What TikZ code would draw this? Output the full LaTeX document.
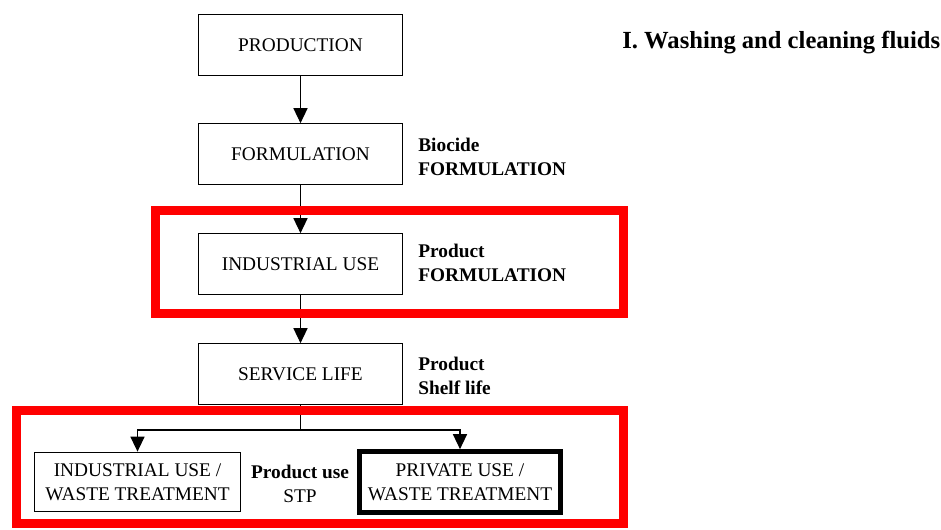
\documentclass[tikz,border=0pt]{standalone}
\usepackage{fontspec}
\setmainfont{Liberation Serif}
\usetikzlibrary{arrows.meta}

\begin{document}
\begin{tikzpicture}[ x = 0.02cm, y = -0.02cm ]
        \tikzset{stage/.style={draw, line width=0.6pt, minimum width=116pt, minimum height=34.5pt,
                 inner sep=0pt, align=center, font=\fontsize{11}{13.6}\selectfont}}
        \tikzset{note/.style={anchor=west, inner sep=0pt, align=left, font=\bfseries\fontsize{11}{13.6}\selectfont}}
        \tikzset{flow/.style={line width=0.6pt, -{Triangle[length=8.5pt,width=8pt]}}}   % directed edges
        \tikzset{frame/.style={draw=red, line width=5.1pt}}

        \useasboundingbox (0,0) rectangle (941,530);

        \node[stage] (prod) at (300.5,45)  {PRODUCTION};
        \node[stage] (form) at (300.5,154) {FORMULATION};
        \node[stage] (indu) at (300.5,264) {INDUSTRIAL USE};
        \node[stage] (serv) at (300.5,374) {SERVICE LIFE};

        \node[stage, minimum width=117pt, minimum height=34pt] (indw) at (137.5,482) {INDUSTRIAL USE /\\WASTE TREATMENT};
        \node[stage, line width=2.8pt, minimum width=114pt, minimum height=34.6pt] (priv) at (460,482) {PRIVATE USE /\\WASTE TREATMENT};

        \node[note] (biof) at (418,157) {Biocide\\FORMULATION};
        \node[note] (prof) at (418,263) {Product\\FORMULATION};
        \node[note] (shel) at (418,375.5) {Product\\Shelf life};
        \node[note, anchor=center, align=center] (stp) at (300,484) {Product use\\\normalfont STP};
        \node[note, font=\bfseries\fontsize{14}{17}\selectfont] (title) at (622,43) {I. Washing and cleaning fluids};

        \draw[flow] (prod) -- (form);
        \draw[flow] (form) -- (indu);
        \draw[flow] (indu) -- (serv);

        \coordinate (split) at (300.5,430);
        \draw[line width=0.6pt] (serv) -- (split);
        \draw[flow] (split) -| (indw);
        \draw[flow] (split) -| (priv);

        \draw[frame] (155.5,210.5) rectangle (623.5,313.5);
        \draw[frame] (16.5,410.5) rectangle (623.5,523.5);

      \end{tikzpicture}
\end{document}
